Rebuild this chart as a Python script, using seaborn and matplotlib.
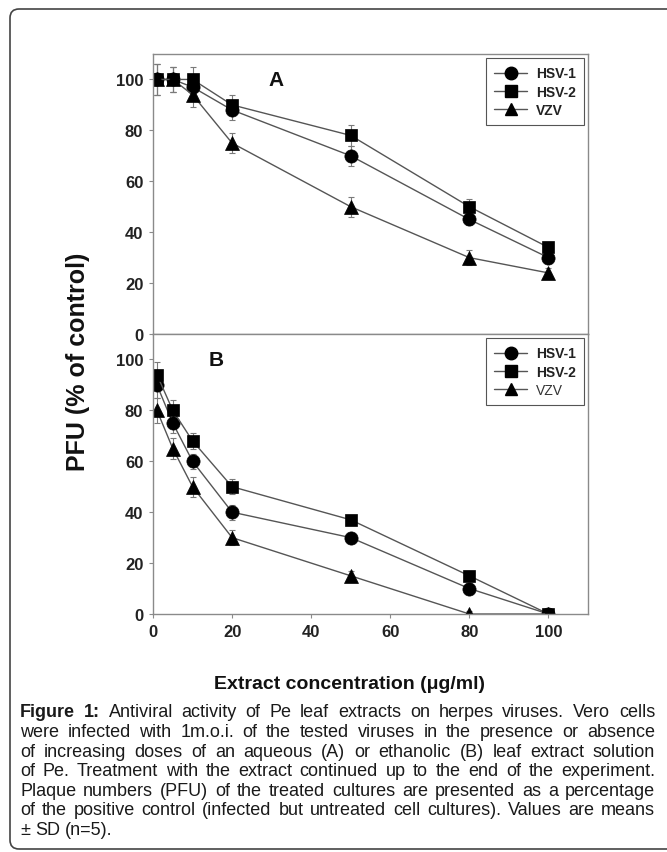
import matplotlib
matplotlib.use("Agg")
import matplotlib.pyplot as plt
import seaborn as sns
import pandas as pd
from matplotlib.lines import Line2D
from matplotlib.patches import FancyBboxPatch
from matplotlib.transforms import IdentityTransform

# ---------------- data ----------------
conc = [1, 5, 10, 20, 50, 80, 100]
viruses = ["HSV-1", "HSV-2", "VZV"]

a_hsv1 = [100, 100, 97, 88, 70, 45, 30]
a_hsv2 = [100, 100, 100, 90, 78, 50, 34]
a_vzv = [100, 100, 94, 75, 50, 30, 24]
a_hsv1_sd = [6, 5, 5, 4, 4, 2, 2]
a_hsv2_sd = [6, 5, 5, 4, 4, 3, 2]
a_vzv_sd = [6, 5, 5, 4, 4, 3, 2]

b_hsv1 = [90, 75, 60, 40, 30, 10, 0]
b_hsv2 = [94, 80, 68, 50, 37, 15, 0]
b_vzv = [80, 65, 50, 30, 15, 0, 0]
b_hsv1_sd = [5, 4, 3, 3, 2, 2, 0]
b_hsv2_sd = [5, 4, 3, 3, 2, 2, 0]
b_vzv_sd = [5, 4, 4, 3, 2, 1, 0]

ticks = [0, 20, 40, 60, 80, 100]
tick_labels = ["0", "20", "40", "60", "80", "100"]
panel_labels = ["A", "B"]
x_label = "Extract concentration (\u03bcg/ml)"
y_label = "PFU (% of control)"
caption_lines = [
    "Antiviral activity of Pe leaf extracts on herpes viruses. Vero cells",
    "were infected with 1m.o.i. of the tested viruses in the presence or absence",
    "of increasing doses of an aqueous (A) or ethanolic (B) leaf extract solution",
    "of Pe. Treatment with the extract continued up to the end of the experiment.",
    "Plaque numbers (PFU) of the treated cultures are presented as a percentage",
    "of the positive control (infected but untreated cell cultures). Values are means",
    "\u00b1 SD (n=5).",
]
caption_head = "Figure 1:"

# ---------------- style ----------------
sns.set_theme(style="ticks")
plt.rcParams["font.family"] = ["Liberation Sans", "DejaVu Sans"]

W, H = 667, 853
fig = plt.figure(figsize=(W / 100, H / 100), dpi=100)


def rect(l, r, t, b):
    return [l / W, 1 - b / H, (r - l) / W, (b - t) / H]


axA = fig.add_axes(rect(153, 588, 55, 335))
axB = fig.add_axes(rect(153, 588, 335, 615))

markers = {"HSV-1": "o", "HSV-2": "s", "VZV": "^"}
line_col = "#555555"


def make_df(h1, h2, vz):
    return pd.DataFrame({
        "conc": conc * 3,
        "pfu": h1 + h2 + vz,
        "virus": ["HSV-1"] * len(conc) + ["HSV-2"] * len(conc) + ["VZV"] * len(conc),
    })


panels = [
    (axA, make_df(a_hsv1, a_hsv2, a_vzv), [a_hsv1, a_hsv2, a_vzv], [a_hsv1_sd, a_hsv2_sd, a_vzv_sd],
     (31, 100), ["bold", "bold", "bold"]),
    (axB, make_df(b_hsv1, b_hsv2, b_vzv), [b_hsv1, b_hsv2, b_vzv], [b_hsv1_sd, b_hsv2_sd, b_vzv_sd],
     (16, 100), ["bold", "bold", "normal"]),
]

for i, (ax, df, vals, sds, lab_pos, leg_weights) in enumerate(panels):
    for v, sd in zip(vals, sds):
        ax.errorbar(conc, v, yerr=sd, fmt="none", ecolor="#7a7a7a",
                    elinewidth=0.8, capsize=2.5, capthick=0.8, zorder=1)
    sns.lineplot(data=df, x="conc", y="pfu", hue="virus", style="virus",
                 markers=markers, dashes=False,
                 palette={v: line_col for v in viruses},
                 markersize=9.5, markerfacecolor="black", markeredgecolor="black",
                 markeredgewidth=0.5, linewidth=1.0, legend=False,
                 estimator=None, errorbar=None, ax=ax, zorder=2)
    for ln in ax.lines:
        if ln.get_marker() == "s":
            ln.set_markersize(9)
        elif ln.get_marker() == "^":
            ln.set_markersize(10)

    ax.set_xlim(0, 110)
    ax.set_ylim(0, 110)
    ax.set_xticks(ticks, labels=tick_labels, fontweight="bold", fontsize=12, color="#222222")
    ax.set_yticks(ticks, labels=tick_labels, fontweight="bold", fontsize=12, color="#222222")
    ax.set_xlabel("")
    ax.set_ylabel("")
    for s in ax.spines.values():
        s.set_color("#8a8a8a")
        s.set_linewidth(1.0)
    ax.tick_params(direction="out", length=3, width=0.8, color="#8a8a8a",
                   pad=4, left=True, bottom=True)
    ax.text(lab_pos[0], lab_pos[1], panel_labels[i], fontsize=15, fontweight="bold",
            ha="center", va="center", color="#111111")

    handles = [Line2D([], [], color=line_col, lw=1.0, marker=markers[v],
                      ms=8.5 if markers[v] == "s" else 9,
                      mfc="black", mec="black") for v in viruses]
    leg = ax.legend(handles, viruses, loc="upper right", fontsize=10, frameon=True,
                    fancybox=False, edgecolor="#555555", framealpha=1,
                    borderaxespad=0.3, handlelength=2.4, labelspacing=0.3,
                    borderpad=0.6, handletextpad=0.6)
    leg.get_frame().set_linewidth(0.8)
    for t, w in zip(leg.get_texts(), leg_weights):
        t.set_fontweight(w)
        t.set_color("#222222" if w == "bold" else "#333333")

axA.tick_params(labelbottom=False)

# axis labels
fig.text(78 / W, 1 - 362 / H, y_label, rotation=90, fontsize=18, fontweight="bold",
         ha="center", va="center", color="#111111")
fig.text(350 / W, 1 - 685 / H, x_label, fontsize=14, fontweight="bold",
         ha="center", va="center", color="#111111")

# caption (justified)
renderer = fig.canvas.get_renderer()
cap_fs = 13
x0, x1 = 20, 655
y_start, y_step = 713, 19.6


def put_line(words, y_px, justify):
    objs = []
    widths = []
    for w, wt in words:
        t = fig.text(0, 1 - y_px / H, w, fontsize=cap_fs, fontweight=wt,
                     ha="left", va="center", color="#1a1a1a")
        objs.append(t)
        widths.append(t.get_window_extent(renderer).width)
    ta = fig.text(0, 0, "a b", fontsize=cap_fs)
    tb = fig.text(0, 0, "ab", fontsize=cap_fs)
    space = ta.get_window_extent(renderer).width - tb.get_window_extent(renderer).width
    ta.remove()
    tb.remove()
    if justify and len(words) > 1:
        gap = (x1 - x0 - sum(widths)) / (len(words) - 1)
        gap = max(gap, space * 0.6)
    else:
        gap = space
    x = x0
    for t, wd in zip(objs, widths):
        t.set_x(x / W)
        x += wd + gap


for k, line in enumerate(caption_lines):
    words = [(w, "normal") for w in line.split(" ")]
    if k == 0:
        words = [(w, "bold") for w in caption_head.split(" ")] + words
    put_line(words, y_start + k * y_step, justify=(k < len(caption_lines) - 1))

# rounded border
border = FancyBboxPatch((10, 3), 672, H - 13, boxstyle="round,pad=0,rounding_size=9",
                        transform=IdentityTransform(), facecolor="none",
                        edgecolor="#444444", linewidth=1.2)
fig.patches.append(border)

fig.savefig("out.png", dpi=100)
